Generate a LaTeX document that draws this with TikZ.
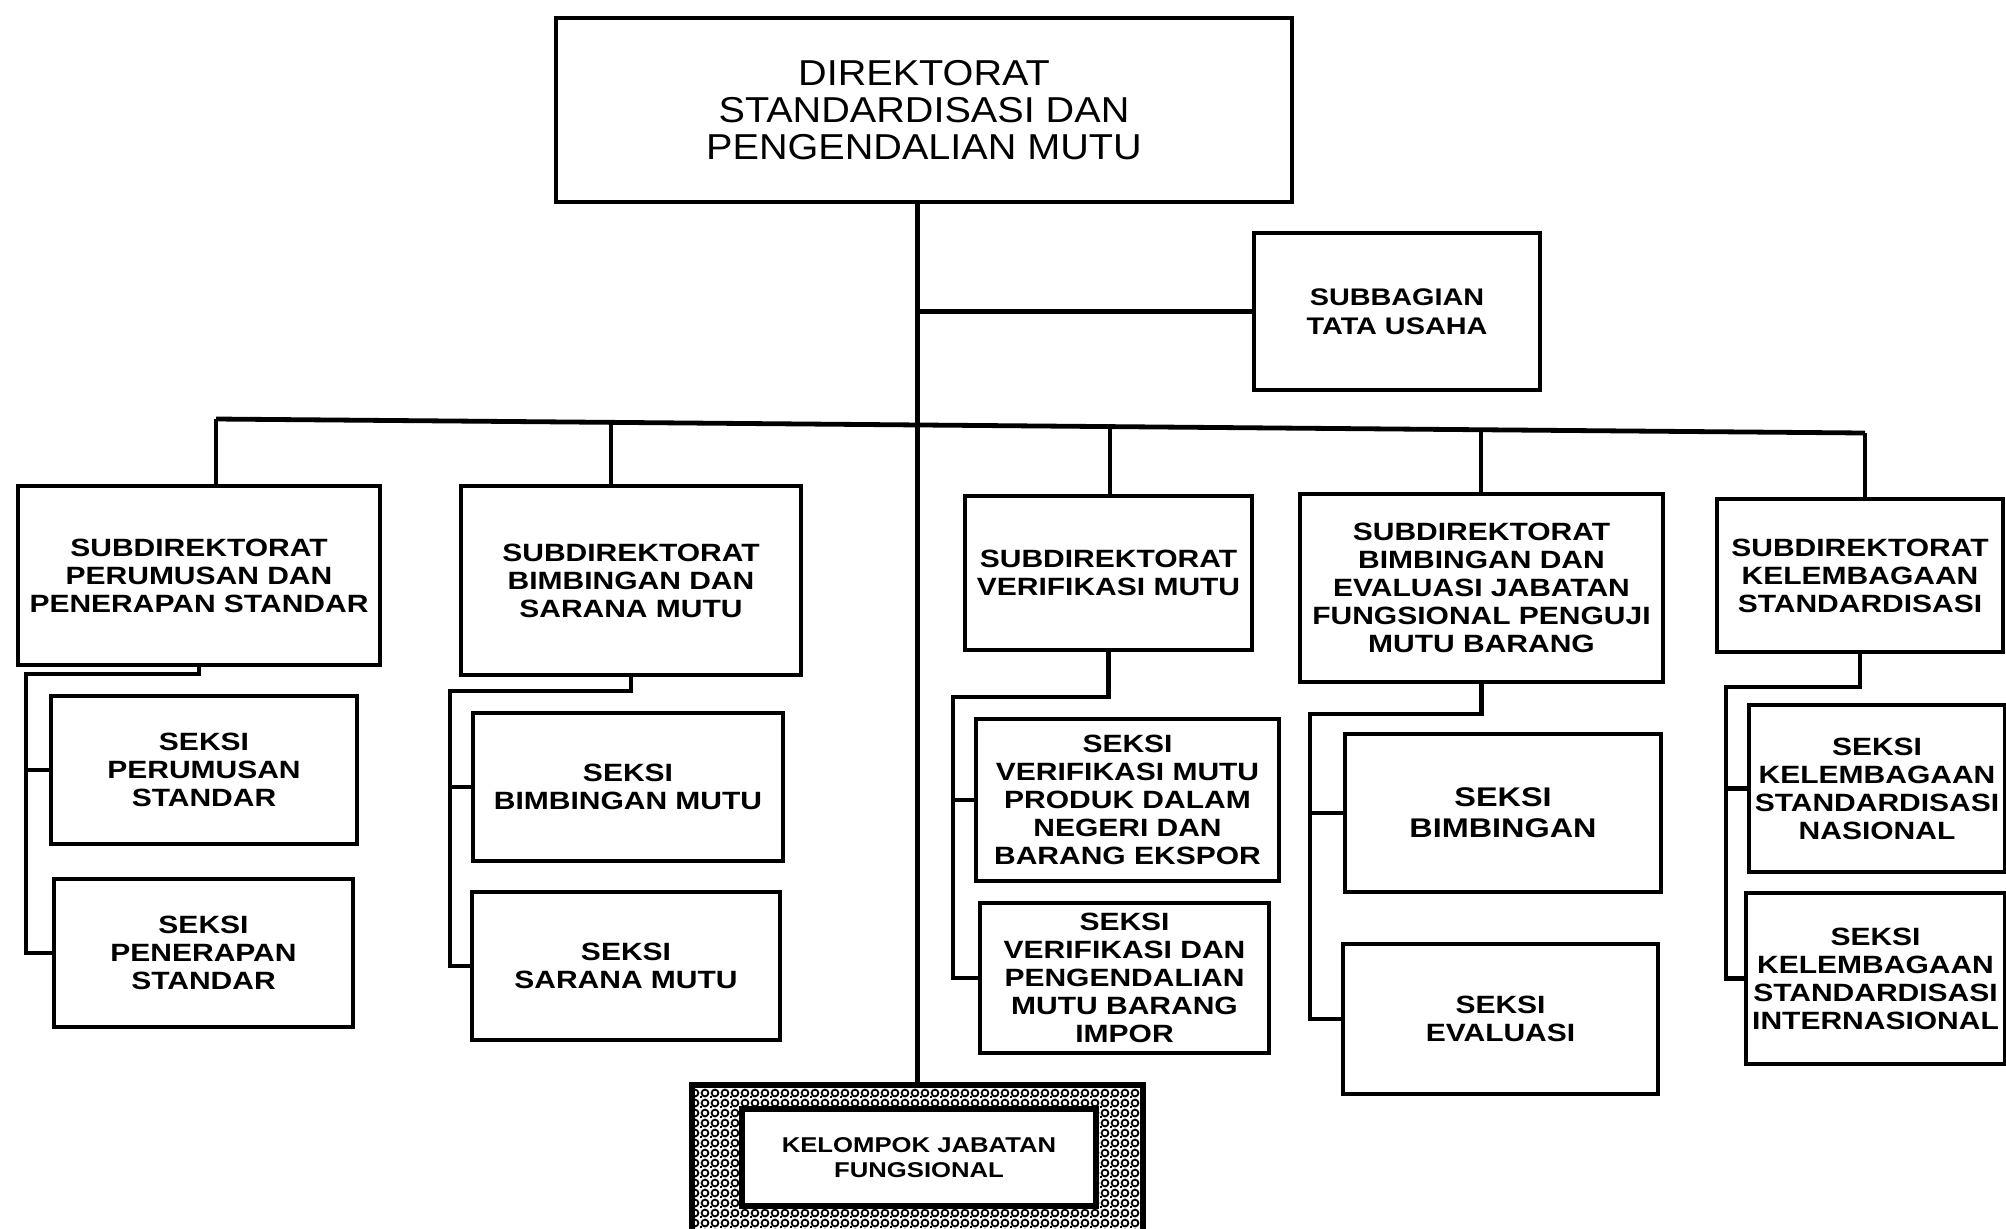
\documentclass[tikz,border=0pt]{standalone}
\usepackage{fontspec}
\setmainfont{Liberation Sans}
\newfontfamily\widebold{Liberation Sans}[FakeStretch=1.2]
\newfontfamily\wideregular{Liberation Sans}[FakeStretch=1.1]
\usetikzlibrary{patterns}
\pgfdeclarepatternformonly{meshrings}{\pgfqpoint{-1pt}{-1pt}}{\pgfqpoint{6pt}{6pt}}{\pgfqpoint{5pt}{5pt}}{%
  \pgfsetlinewidth{0.9pt}%
  \pgfpathcircle{\pgfqpoint{2.5pt}{2.5pt}}{1.7pt}%
  \pgfusepath{stroke}%
  \pgfpathrectangle{\pgfqpoint{0pt}{0pt}}{\pgfqpoint{0.8pt}{0.8pt}}%
  \pgfusepath{fill}%
}
\tikzset{
  box/.style={draw, line width=2.3pt, align=center, inner sep=2pt, fill=white,
    font={\widebold\bfseries\fontsize{12.5}{14}\selectfont}},
  bigsek/.style={font={\widebold\bfseries\fontsize{13.5}{15.4}\selectfont}},
  topbox/.style={draw, line width=2.3pt, align=center, inner sep=2pt,
    font={\wideregular\fontsize{18}{18.5}\selectfont}},
  conn/.style={line width=2.4pt},
}
\begin{document}
\begin{tikzpicture}[x=0.5pt, y=-0.5pt]
\useasboundingbox (0,0) rectangle (2006,1228);
\fill[white] (0,0) rectangle (2006,1228);

% top
\node[topbox, minimum width=368pt, minimum height=92pt] (top) at (924,110)
  {DIREKTORAT\\STANDARDISASI DAN\\PENGENDALIAN MUTU};
\node[box, minimum width=143pt, minimum height=78.5pt,
  font={\widebold\bfseries\fontsize{12}{14.7}\selectfont}] (sub) at (1397,311.5)
  {SUBBAGIAN\\TATA USAHA};

% subdirektorat
\node[box, minimum width=181pt, minimum height=89.5pt] (s1) at (199,575.5)
  {SUBDIREKTORAT\\PERUMUSAN DAN\\PENERAPAN STANDAR};
\node[box, minimum width=170pt, minimum height=94.5pt] (s2) at (631,580.5)
  {SUBDIREKTORAT\\BIMBINGAN DAN\\SARANA MUTU};
\node[box, minimum width=143.5pt, minimum height=77pt] (s3) at (1108.5,573)
  {SUBDIREKTORAT\\VERIFIKASI MUTU};
\node[box, minimum width=181.5pt, minimum height=94pt] (s4) at (1481.5,588)
  {SUBDIREKTORAT\\BIMBINGAN DAN\\EVALUASI JABATAN\\FUNGSIONAL PENGUJI\\MUTU BARANG};
\node[box, minimum width=143pt, minimum height=76.5pt] (s5) at (1860,575.5)
  {SUBDIREKTORAT\\KELEMBAGAAN\\STANDARDISASI};

% seksi
\node[box, minimum width=153pt, minimum height=74pt] (c1a) at (204,770)
  {SEKSI\\PERUMUSAN\\STANDAR};
\node[box, minimum width=149.5pt, minimum height=74pt] (c1b) at (203.5,953)
  {SEKSI\\PENERAPAN\\STANDAR};
\node[box, minimum width=155pt, minimum height=74pt] (c2a) at (628,787)
  {SEKSI\\BIMBINGAN MUTU};
\node[box, minimum width=154pt, minimum height=74pt] (c2b) at (626,966)
  {SEKSI\\SARANA MUTU};
\node[box, minimum width=151.5pt, minimum height=81pt] (c3a) at (1127.5,800)
  {SEKSI\\VERIFIKASI MUTU\\PRODUK DALAM\\NEGERI DAN\\BARANG EKSPOR};
\node[box, minimum width=144.5pt, minimum height=75pt] (c3b) at (1124.5,978)
  {SEKSI\\VERIFIKASI DAN\\PENGENDALIAN\\MUTU BARANG\\IMPOR};
\node[box, bigsek, minimum width=158pt, minimum height=79pt] (c4a) at (1503,813)
  {SEKSI\\BIMBINGAN};
\node[box, minimum width=157.5pt, minimum height=75pt] (c4b) at (1500.5,1019)
  {SEKSI\\EVALUASI};
\node[box, minimum width=128pt, minimum height=83.5pt] (c5a) at (1877,788.5)
  {SEKSI\\KELEMBAGAAN\\STANDARDISASI\\NASIONAL};
\node[box, minimum width=129.5pt, minimum height=85.5pt] (c5b) at (1875.5,978.5)
  {SEKSI\\KELEMBAGAAN\\STANDARDISASI\\INTERNASIONAL};

% kelompok jabatan fungsional
\node[draw, line width=3pt, pattern=meshrings, minimum width=225.5pt, minimum height=85pt,
  inner sep=0pt] (fo) at (917.5,1170) {};
\node[box, line width=3pt, minimum width=177pt, minimum height=48.5pt,
  font={\widebold\bfseries\fontsize{10.7}{12.8}\selectfont}] (fj) at (919,1157.5)
  {KELOMPOK JABATAN\\FUNGSIONAL};

% main line
\draw[conn] (fo.north |- top.south) -- (fo.north);
\draw[conn] (fo.north |- sub.west) -- (sub.west);

% bus (slightly slanted as in the scan)
\coordinate (b1) at (216,419);
\coordinate (b2) at (611,422.4);
\coordinate (b3) at (1110,426.6);
\coordinate (b4) at (1481,429.7);
\coordinate (b5) at (1865,433);
\draw[conn] (b1) -- (b5);
\draw[conn] (b1) -- (b1 |- s1.north);
\draw[conn] (b2) -- (b2 |- s2.north);
\draw[conn] (b3) -- (b3 |- s3.north);
\draw[conn] (b4) -- (b4 |- s4.north);
\draw[conn] (b5) -- (b5 |- s5.north);

% column connectors
\coordinate (k1) at (26,674);
\draw[conn] (s1.south) |- (k1) |- (c1b.west);
\draw[conn] (k1 |- c1a.west) -- (c1a.west);

\coordinate (k2) at (450,691);
\draw[conn] (s2.south) |- (k2) |- (c2b.west);
\draw[conn] (k2 |- c2a.west) -- (c2a.west);

\coordinate (k3) at (953,697);
\draw[conn] (s3.south) |- (k3) |- (c3b.west);
\draw[conn] (k3 |- c3a.west) -- (c3a.west);

\coordinate (k4) at (1310,714);
\draw[conn] (s4.south) |- (k4) |- (c4b.west);
\draw[conn] (k4 |- c4a.west) -- (c4a.west);

\coordinate (k5) at (1726,687);
\draw[conn] (s5.south) |- (k5) |- (c5b.west);
\draw[conn] (k5 |- c5a.west) -- (c5a.west);
\end{tikzpicture}
\end{document}
